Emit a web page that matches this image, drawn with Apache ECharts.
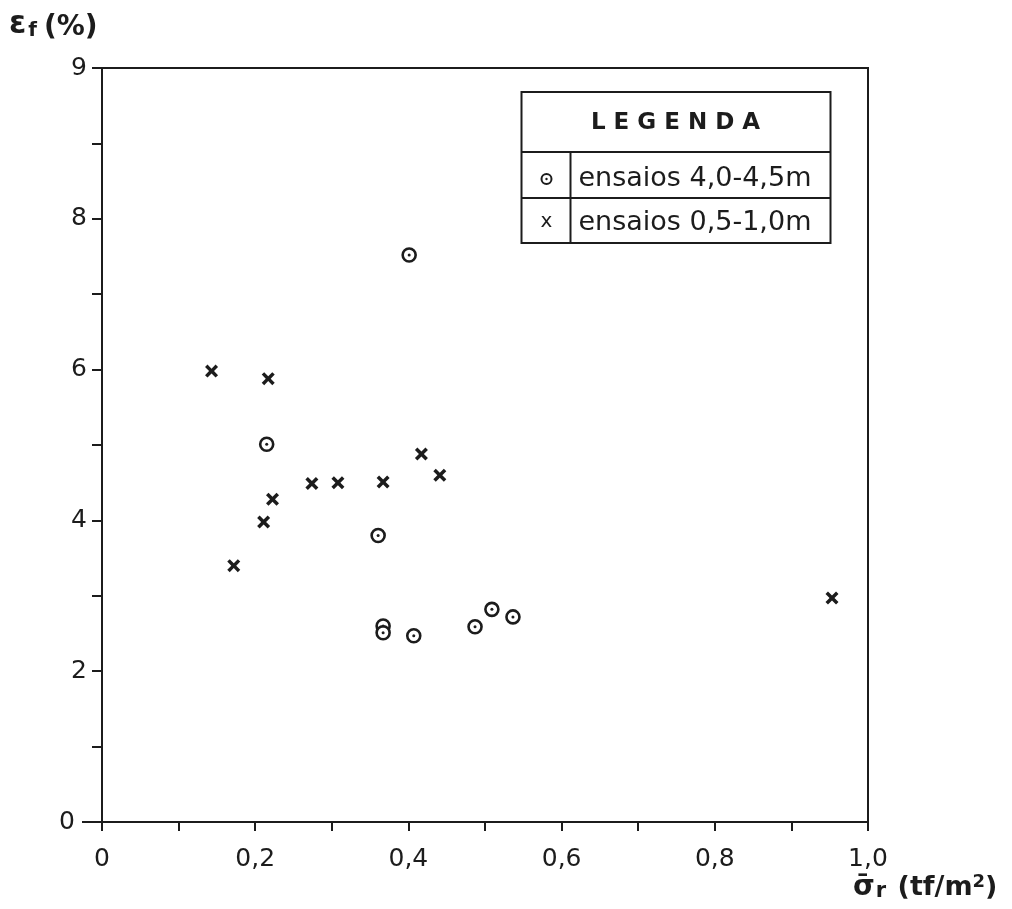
<!DOCTYPE html>
<html>
<head>
<meta charset="utf-8">
<script src="https://cdn.jsdelivr.net/npm/echarts@6/dist/echarts.min.js"></script>
<style>
  html, body { margin: 0; padding: 0; background: #ffffff; }
  #chart { width: 1012px; height: 909px; }
</style>
</head>
<body>
<div id="chart"></div>
<script>
// Tests at 4,0-4,5 m depth (circle with centre dot)
const deepX = [0.401, 0.215, 0.3605, 0.367, 0.367, 0.407, 0.487, 0.509, 0.5365];
const deepY = [7.52, 5.01, 3.80, 2.60, 2.51, 2.47, 2.59, 2.82, 2.72];
// Tests at 0,5-1,0 m depth (cross)
const shallowX = [0.143, 0.217, 0.417, 0.441, 0.274, 0.308, 0.367, 0.2226, 0.211, 0.172, 0.953];
const shallowY = [5.98, 5.88, 4.88, 4.60, 4.49, 4.50, 4.51, 4.28, 3.98, 3.40, 2.97];
// Axis tick labels
const yTickLabels = { 0: '{z|0}', 2: '2', 4: '4', 6: '6', 8: '8', 10: '9' };
const xTickLabels = { 0: '0', 2: '0,2', 4: '0,4', 6: '0,6', 8: '0,8', 10: '1,0' };
const legendRows = ['ensaios 4,0-4,5m', 'ensaios 0,5-1,0m'];

const INK = '#1c1c1c';
const FONT = "'DejaVu Sans', sans-serif";

const zip = (xs, ys) => xs.map((x, i) => [x, ys[i]]);

// Thick cross drawn as a filled outline
const crossPath = 'path://M0,1.9 L1.9,0 L5,3.1 L8.1,0 L10,1.9 L6.9,5 L10,8.1 L8.1,10 L5,6.9 L1.9,10 L0,8.1 L3.1,5 Z';

const chart = echarts.init(document.getElementById('chart'), null, { renderer: 'canvas' });

chart.setOption({
  backgroundColor: '#ffffff',
  animation: false,
  grid: {
    left: 102, right: 144, top: 68, bottom: 87,
    show: true, borderColor: INK, borderWidth: 2, backgroundColor: 'transparent'
  },
  xAxis: {
    type: 'value', min: 0, max: 1, interval: 0.1,
    axisLine: { show: true, onZero: false, lineStyle: { color: INK, width: 2 } },
    axisTick: { show: true, inside: false, length: 9, lineStyle: { color: INK, width: 2 } },
    splitLine: { show: false },
    axisLabel: {
      interval: 0, margin: 25, color: INK, fontFamily: FONT, fontSize: 25,
      formatter: v => { const k = Math.round(v * 10); return xTickLabels[k] !== undefined ? xTickLabels[k] : ''; }
    }
  },
  yAxis: {
    type: 'value', min: 0, max: 10, interval: 1,
    axisLine: { show: true, onZero: false, lineStyle: { color: INK, width: 2 } },
    axisTick: { show: true, inside: false, length: 10, lineStyle: { color: INK, width: 2 } },
    splitLine: { show: false },
    axisLabel: {
      interval: 0, margin: 15, color: INK, fontFamily: FONT, fontSize: 25,
      rich: { z: { fontFamily: FONT, fontSize: 25, color: INK, padding: [0, 12, 0, 0] } },
      formatter: v => { const k = Math.round(v); return yTickLabels[k] !== undefined ? yTickLabels[k] : ''; }
    }
  },
  series: [
    {
      name: legendRows[0], type: 'scatter', data: zip(deepX, deepY),
      symbol: 'circle', symbolSize: 13,
      itemStyle: { color: '#ffffff', borderColor: INK, borderWidth: 2.6, opacity: 1 },
      z: 3
    },
    {
      name: legendRows[0] + ' centre', type: 'scatter', data: zip(deepX, deepY),
      symbol: 'circle', symbolSize: 3,
      itemStyle: { color: INK, opacity: 1 },
      z: 4
    },
    {
      name: legendRows[1], type: 'scatter', data: zip(shallowX, shallowY),
      symbol: crossPath, symbolSize: 13,
      itemStyle: { color: INK, opacity: 1 },
      z: 3
    }
  ],
  graphic: [
    // x axis line continues a little to the left of the y axis
    { type: 'line', shape: { x1: 82, y1: 822, x2: 102, y2: 822 }, style: { stroke: INK, lineWidth: 2 } },
    // Axis titles
    {
      type: 'text', left: 9, top: 9,
      style: {
        text: '{e|ε}{f|f}{p|(%)}',
        rich: {
          e: { fontFamily: FONT, fontSize: 31, fontWeight: 'bold', fill: INK },
          f: { fontFamily: FONT, fontSize: 20, fontWeight: 'bold', fill: INK, padding: [12, 7, 0, 2] },
          p: { fontFamily: FONT, fontSize: 28, fontWeight: 'bold', fill: INK, padding: [6, 0, 0, 0] }
        }
      }
    },
    {
      type: 'text', left: 853, top: 873,
      style: {
        text: '{s|σ̄}{r|r}{t| (tf/m}{u|2}{t|)}',
        rich: {
          s: { fontFamily: FONT, fontSize: 28, fontWeight: 'bold', fill: INK },
          r: { fontFamily: FONT, fontSize: 21, fontWeight: 'bold', fill: INK, padding: [8, 2, 0, 1] },
          t: { fontFamily: FONT, fontSize: 27, fontWeight: 'bold', fill: INK },
          u: { fontFamily: FONT, fontSize: 18, fontWeight: 'bold', fill: INK, padding: [0, 0, 12, 0] }
        }
      }
    },
    // Legend table
    {
      type: 'group', left: 519, top: 91,
      children: [
        { type: 'rect', shape: { x: 0, y: 0, width: 309, height: 151 }, style: { fill: '#ffffff', stroke: INK, lineWidth: 2 } },
        { type: 'line', shape: { x1: 0, y1: 60, x2: 309, y2: 60 }, style: { stroke: INK, lineWidth: 2 } },
        { type: 'line', shape: { x1: 0, y1: 106, x2: 309, y2: 106 }, style: { stroke: INK, lineWidth: 2 } },
        { type: 'line', shape: { x1: 49, y1: 60, x2: 49, y2: 151 }, style: { stroke: INK, lineWidth: 2 } },
        {
          type: 'text', x: 154, y: 31,
          style: { text: 'L E G E N D A', align: 'center', verticalAlign: 'middle', fontFamily: FONT, fontSize: 23, fontWeight: 'bold', fill: INK }
        },
        { type: 'circle', shape: { cx: 25, cy: 87, r: 5 }, style: { fill: '#ffffff', stroke: INK, lineWidth: 2 } },
        { type: 'circle', shape: { cx: 25, cy: 87, r: 1.2 }, style: { fill: INK } },
        {
          type: 'text', x: 25, y: 130,
          style: { text: 'x', align: 'center', verticalAlign: 'middle', fontFamily: FONT, fontSize: 20, fill: INK }
        },
        {
          type: 'text', x: 57, y: 87,
          style: { text: legendRows[0], align: 'left', verticalAlign: 'middle', fontFamily: FONT, fontSize: 27, fill: INK }
        },
        {
          type: 'text', x: 57, y: 131,
          style: { text: legendRows[1], align: 'left', verticalAlign: 'middle', fontFamily: FONT, fontSize: 27, fill: INK }
        }
      ]
    }
  ]
});
</script>
</body>
</html>
